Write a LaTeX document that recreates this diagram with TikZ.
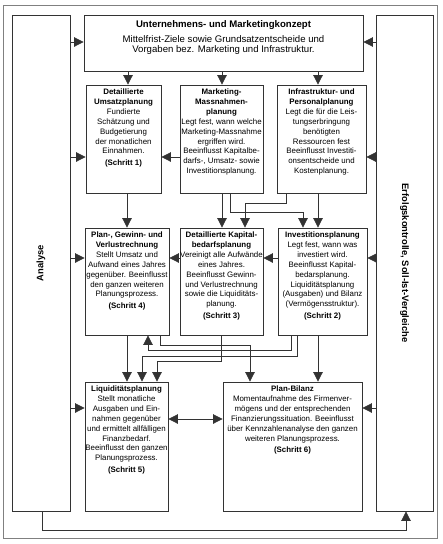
\documentclass[tikz,border=0pt]{standalone}
\usepackage{fontspec}
\setmainfont{Liberation Sans}
\usetikzlibrary{arrows.meta,fit}

\begin{document}
\begin{tikzpicture}[x=1pt,y=-1pt,
  box/.style={draw=black!80,line width=0.8pt,inner sep=0pt},
  txt/.style={anchor=north,align=center,inner sep=0pt,font=\fontsize{7.9}{9.9}\selectfont},
  arr/.style={draw=black!80,line width=0.7pt,-{Triangle[length=9.5pt,width=9.5pt]}},
  seite/.style={font=\bfseries\fontsize{9.4}{11}\selectfont,inner sep=0pt}]
\useasboundingbox (0,0) rectangle (443,544);
% Rahmen und Seitenspalten
\node[box,draw=black!50,fit={(3,5) (437,538)}] (rahmen) {};
\node[box,fit={(12,15) (70,511)}] (analyse) {};
\node[box,fit={(376,15) (433,511)}] (kontrolle) {};
\node[seite,rotate=90] (analysetxt) at (analyse.center) {Analyse};
\node[seite,rotate=-90] (kontrolletxt) at (kontrolle.center) {Erfolgskontrolle, Soll-Ist-Vergleiche};
% Kasten oben
\node[box,fit={(84,15) (363,71)}] (konzept) {};
\node[txt,font=\fontsize{9.6}{10.6}\selectfont] (konzepttxt) at ([yshift=-6pt]konzept.north)
  {\textbf{Unternehmens- und Marketingkonzept}\\[4pt]
   Mittelfrist-Ziele sowie Grundsatzentscheide und\\
   Vorgaben bez. Marketing und Infrastruktur.};
% erste Reihe
\node[box,fit={(86,85) (161,193)}] (umsatz) {};
\node[box,fit={(180,85) (263,193)}] (massn) {};
\node[box,fit={(277,85) (366,193)}] (infra) {};
\node[txt] (umsatztxt) at ([yshift=-4pt]umsatz.north)
  {\textbf{Detaillierte}\\ \textbf{Umsatzplanung}\\ Fundierte\\ Schätzung und\\
   Budgetierung\\ der monatlichen\\ Einnahmen.\\[2pt] \textbf{(Schritt 1)}};
\node[txt] (massntxt) at ([yshift=-4pt]massn.north)
  {\textbf{Marketing-}\\ \textbf{Massnahmen-}\\ \textbf{planung}\\ Legt fest, wann welche\\
   Marketing-Massnahme\\ ergriffen wird.\\ Beeinflusst Kapitalbe-\\
   darfs-, Umsatz- sowie\\ Investitionsplanung.};
\node[txt] (infratxt) at ([yshift=-4pt]infra.north)
  {\textbf{Infrastruktur- und}\\ \textbf{Personalplanung}\\ Legt die für die Leis-\\
   tungserbringung\\ benötigten\\ Ressourcen fest\\ Beeinflusst Investiti-\\
   onsentscheide und\\ Kostenplanung.};
% zweite Reihe
\node[box,fit={(85,228) (169,335)}] (guv) {};
\node[box,fit={(180,228) (263,335)}] (kapital) {};
\node[box,fit={(278,228) (367,335)}] (invest) {};
\node[txt] (guvtxt) at ([yshift=-4pt]guv.north)
  {\textbf{Plan-, Gewinn- und}\\ \textbf{Verlustrechnung}\\ Stellt Umsatz und\\
   Aufwand eines Jahres\\ gegenüber. Beeinflusst\\ den ganzen weiteren\\
   Planungsprozess.\\[2pt] \textbf{(Schritt 4)}};
\node[txt] (kapitaltxt) at ([yshift=-4pt]kapital.north)
  {\textbf{Detaillierte Kapital-}\\ \textbf{bedarfsplanung}\\ Vereinigt alle Aufwände\\
   eines Jahres.\\ Beeinflusst Gewinn-\\ und Verlustrechnung\\
   sowie die Liquiditäts-\\ planung.\\[2pt] \textbf{(Schritt 3)}};
\node[txt] (investtxt) at ([yshift=-4pt]invest.north)
  {\textbf{Investitionsplanung}\\ Legt fest, wann was\\ investiert wird.\\
   Beeinflusst Kapital-\\ bedarsplanung.\\ Liquiditätsplanung\\
   (Ausgaben) und Bilanz\\ (Vermögensstruktur).\\[2pt] \textbf{(Schritt 2)}};
% dritte Reihe
\node[box,fit={(85,382) (168,511)}] (liqui) {};
\node[box,fit={(223,382) (362,511)}] (bilanz) {};
\node[txt] (liquitxt) at ([yshift=-4pt]liqui.north)
  {\textbf{Liquiditätsplanung}\\ Stellt monatliche\\ Ausgaben und Ein-\\
   nahmen gegenüber\\ und ermittelt allfälligen\\ Finanzbedarf.\\
   Beeinflusst den ganzen\\ Planungsprozess.\\[2pt] \textbf{(Schritt 5)}};
\node[txt] (bilanztxt) at ([yshift=-4pt]bilanz.north)
  {\textbf{Plan-Bilanz}\\ Momentaufnahme des Firmenver-\\ mögens und der entsprechenden\\
   Finanzierungssituation. Beeinflusst\\ über Kennzahlenanalyse den ganzen\\
   weiteren Planungsprozess.\\[2pt] \textbf{(Schritt 6)}};
% Pfeile von den Seitenspalten
\foreach \ziel/\hoehe in {konzept/42,umsatz/157,guv/258,liqui/408}
  \draw[arr] (analyse.east |- 0,\hoehe) -- (\ziel.west |- 0,\hoehe);
\foreach \ziel/\hoehe in {konzept/42,infra/157,invest/258,bilanz/408}
  \draw[arr] (kontrolle.west |- 0,\hoehe) -- (\ziel.east |- 0,\hoehe);
% von oben nach der ersten Reihe
\foreach \ziel/\xpos in {umsatz/128,massn/222,infra/318}
  \draw[arr] (konzept.south -| \xpos,0) -- (\ziel.north -| \xpos,0);
% waagrecht in den Reihen
\draw[arr] (massn.west |- 0,157) -- (umsatz.east |- 0,157);
\draw[arr] (kapital.west |- 0,258) -- (guv.east |- 0,258);
\draw[arr] (invest.west |- 0,258) -- (kapital.east |- 0,258);
\draw[arr,{Triangle[length=9.5pt,width=9.5pt]}-{Triangle[length=9.5pt,width=9.5pt]}]
  (liqui.east |- 0,419) -- (bilanz.west |- 0,419);
% erste nach zweite Reihe
\draw[arr] (umsatz.south -| 127,0) -- (guv.north -| 127,0);
\draw[arr] (massn.south -| 222,0) -- (kapital.north -| 222,0);
\draw[arr] (massn.south -| 230,0) -- (230,212) -| (invest.north -| 303,0);
\draw[arr] (infra.south -| 286,0) -- (286,203) -| (kapital.north -| 245,0);
\draw[arr] (infra.south -| 318,0) -- (invest.north -| 318,0);
% zweite nach dritte Reihe
\draw[arr] (guv.south -| 127,0) -- (liqui.north -| 127,0);
\draw[arr] (guv.south -| 160,0) -- (160,345) -| (bilanz.north -| 250,0);
\draw[arr] (invest.south -| 291,0) -- (291,350) -| (guv.south -| 148,0);
\draw[arr] (invest.south -| 297,0) -- (297,356) -| (liqui.north -| 142,0);
\draw[arr] (kapital.south -| 221,0) -- (221,361) -| (liqui.north -| 157,0);
\draw[arr] (invest.south -| 318,0) -- (bilanz.north -| 318,0);
% Rueckfuehrung unten
\draw[arr] (analyse.south -| 42,0) -- (42,530) -| (kontrolle.south -| 406,0);
\end{tikzpicture}
\end{document}
